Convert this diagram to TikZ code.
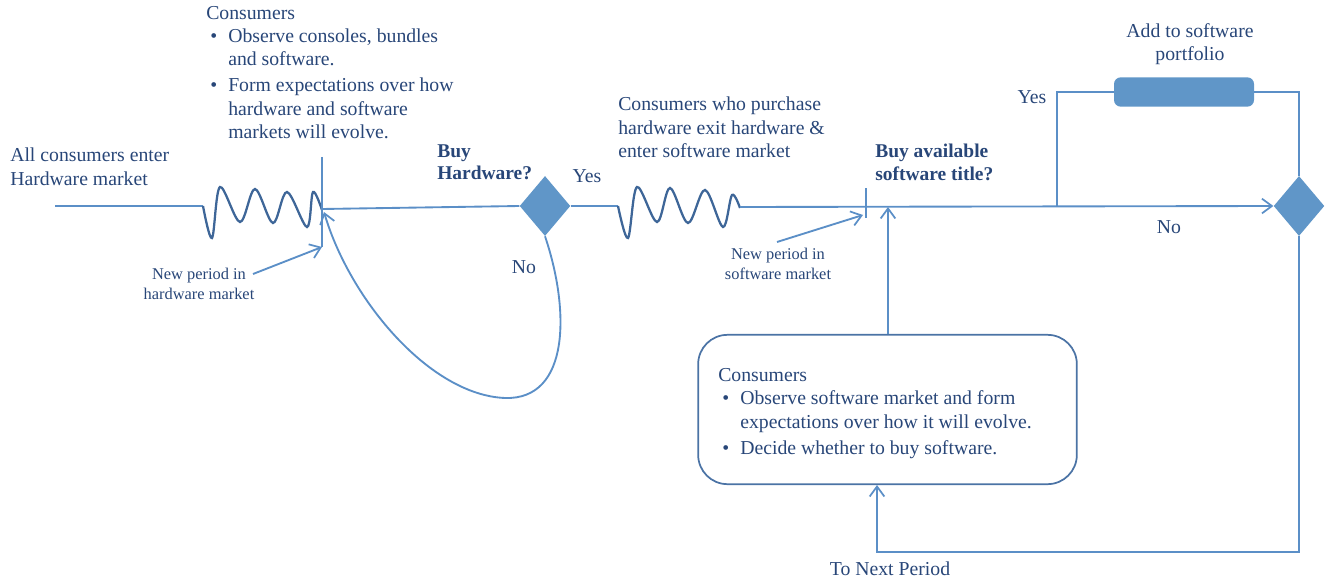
\documentclass[tikz,border=0pt]{standalone}
\usepackage{fontspec}
\setmainfont{Liberation Serif}
\usetikzlibrary{arrows.meta,shapes.geometric}
\definecolor{txt}{RGB}{40,70,120}
\definecolor{ln}{RGB}{91,143,199}
\definecolor{wv}{RGB}{62,102,152}
\definecolor{fl}{RGB}{96,150,200}
\definecolor{bx}{RGB}{75,115,165}
\newcommand\bul{\hspace*{3pt}\makebox[13.5pt][l]{\textbullet}}
\newcommand\ind{\hspace*{16.5pt}}
\begin{document}
\begin{tikzpicture}[x=0.75pt,y=-0.75pt,
  every node/.style={text=txt,inner sep=0pt,font=\fontsize{14.8}{17.5}\selectfont},
  lbl/.style={anchor=north west,align=left},
  small/.style={font=\fontsize{12.3}{15}\selectfont,align=center},
  bld/.style={anchor=north west,align=left,font=\fontsize{14.6}{17}\selectfont\bfseries},
  conn/.style={draw=ln,line width=1.4pt},
  arr/.style={conn,-{Straight Barb[length=7.5pt,width=11pt,line width=1.3pt]}},
  wave/.style={draw=wv,line width=1.7pt},
  dec/.style={diamond,fill=fl,minimum width=38pt,minimum height=45pt,inner sep=0pt}]
\useasboundingbox (0,0) rectangle (1330,581);

% texts
\node[lbl] (allc) at (10,148) {All consumers enter\\\hspace*{0pt}Hardware market};
\node[lbl] (cons1) at (206,6) {Consumers\\
\bul Observe consoles, bundles\\
\ind and software.\\[2pt]
\bul Form expectations over how\\
\ind hardware and software\\
\ind markets will evolve.};
\node[small] (np1) at (199,284) {New period in\\hardware market};
\node[bld] (buyhw) at (437,144) {Buy\\Hardware?};
\node (yes1) at (587,176) {Yes};
\node (no1) at (524,267) {No};
\node[lbl] (cwp) at (618,97) {Consumers who purchase\\hardware exit hardware \&\\enter software market};
\node[small] (np2) at (778,264) {New period in\\software market};
\node[bld] (buysw) at (875,144) {Buy available\\software title?};
\node (yes2) at (1032,97) {Yes};
\node (no2) at (1169,227) {No};
\node[align=center] (addt) at (1190,44) {Add to software\\portfolio};
\node (tnp) at (890,569) {To Next Period};

% shapes
\node[dec] (d1) at (545,206) {};
\node[dec] (d2) at (1299,206) {};
\node[draw=none,fill=fl,rounded corners=5pt,minimum width=105pt,minimum height=22pt] (port) at (1184,92) {};
\node[draw=bx,line width=1.3pt,rounded corners=22pt,minimum width=284pt,minimum height=112pt] (box) at (887.5,409.5) {};
\node[lbl] (boxt) at (718,368) {Consumers\\
\bul Observe software market and form\\
\ind expectations over how it will evolve.\\[2pt]
\bul Decide whether to buy software.};

% coordinates
\coordinate (s0) at (55,206);
\coordinate (w0) at (203,206);
\coordinate (vt) at (322,157);
\coordinate (vb) at (322,247);
\coordinate (vm) at (322,209);
\coordinate (np1s) at (253,274);
\coordinate (w2s) at (618,206);
\coordinate (w2e) at (740,207);
\coordinate (tk1) at (866,188);
\coordinate (tk2) at (866,218);
\coordinate (tkh) at (863,215);
\coordinate (np2s) at (777,242);
\coordinate (jn) at (1057,207);
\coordinate (sw) at (888,207);
\coordinate (nb) at (877,552);
\coordinate (ce) at (324,212);

% hardware market
\draw[conn] (s0) -- (w0);
\draw[wave] plot[smooth,tension=0.55] coordinates {(203,206) (212,238) (220,187) (240,222) (255,189) (273,223) (287,192) (307,227) (313,192) (322,210)};
\draw[conn] (vt) -- (vb);
\draw[arr] (np1s) -- (vb);
\draw[conn] (vm) -- (d1.west);
\draw[arr] (d1.south) .. controls (570,310) and (570,400) .. (505,398) .. controls (430,395) and (350,300) .. (ce);

% software market
\draw[conn] (d1.east) -- (w2s);
\draw[wave] plot[smooth,tension=0.55] coordinates {(618,206) (628,238) (637,187) (657,222) (670,188) (688,223) (705,190) (723,227) (732,195) (740,208)};
\draw[arr] (w2e) -- (d2.west);
\draw[conn] (tk1) -- (tk2);
\draw[arr] (np2s) -- (tkh);
\draw[arr] (box.north -| sw) -- (sw);
\draw[conn] (jn) |- (port.west);
\draw[conn] (port.east) -| (d2.north);
\draw[arr] (d2.south) |- (nb) -- (nb |- box.south);
\end{tikzpicture}
\end{document}
